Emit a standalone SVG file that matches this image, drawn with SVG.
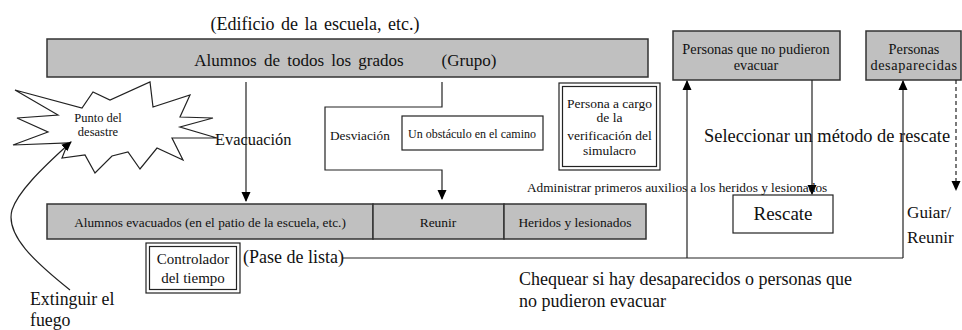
<svg xmlns="http://www.w3.org/2000/svg" width="962" height="330" viewBox="0 0 962 330" font-family="'Liberation Serif', 'DejaVu Serif', serif">
<style>
text{font-family:'Liberation Serif','DejaVu Serif',serif;fill:#111}
.g{fill:#c0c0c0;stroke:#333;stroke-width:1.5}
.w{fill:#fff;stroke:#222;stroke-width:1.2}
.ln{fill:none;stroke:#222;stroke-width:1.2}
.c{text-anchor:middle}
</style>
<defs>
<marker id="ah" markerWidth="10" markerHeight="10" refX="9" refY="5" orient="auto" markerUnits="userSpaceOnUse">
<path d="M0,0.5 L10,5 L0,9.5 Z" fill="#000"/>
</marker>
</defs>
<rect width="962" height="330" fill="#fff"/>

<text x="315" y="30" class="c" font-size="18" word-spacing="2">(Edificio de la escuela, etc.)</text>

<g id="top-bar">
<rect class="g" x="47" y="39" width="601" height="38"/>
<text x="299" y="66" class="c" font-size="17" word-spacing="3">Alumnos de todos los grados</text>
<text x="469" y="66" class="c" font-size="17">(Grupo)</text>
</g>

<g id="starburst">
<polygon class="w" points="15,90 82,108 93,92 110,100 150,82 153,107 190,95 180,117 213,118 180,127 217,138 172,138 183,160 157,148 140,169 128,152 112,156 95,173 85,155 62,158 68,143 13,145 48,132 17,118 58,115"/>
<text x="98" y="122" class="c" font-size="12.5">Punto del</text>
<text x="98" y="136" class="c" font-size="12.5">desastre</text>
</g>

<g id="obstacle">
<rect class="w" x="402" y="116" width="141" height="34"/>
<text x="472" y="138" class="c" font-size="12">Un obstáculo en el camino</text>
</g>

<g id="verifier">
<rect class="w" x="559" y="83" width="101" height="87" stroke-width="1.5"/>
<rect class="w" x="562.5" y="86.5" width="94" height="80" stroke-width="1.2"/>
<text x="609.5" y="108" class="c" font-size="13.5">Persona a cargo</text>
<text x="609.5" y="122" class="c" font-size="13.5">de la</text>
<text x="609.5" y="140" class="c" font-size="13.5">verificación del</text>
<text x="609.5" y="155" class="c" font-size="13.5">simulacro</text>
</g>

<g id="no-evac">
<rect class="g" x="673" y="31" width="167" height="49"/>
<text x="756" y="54" class="c" font-size="14.3">Personas que no pudieron</text>
<text x="756" y="70" class="c" font-size="14.3">evacuar</text>
</g>

<g id="missing">
<rect class="g" x="866" y="31" width="95" height="49"/>
<text x="914" y="54" class="c" font-size="14.3">Personas</text>
<text x="914" y="70" class="c" font-size="14.3" letter-spacing="0.6">desaparecidas</text>
</g>

<g id="bottom-bar">
<rect class="g" x="47" y="204" width="326" height="35"/>
<rect class="g" x="373" y="204" width="131" height="35"/>
<rect class="g" x="504" y="204" width="142" height="35"/>
<text x="210" y="227" class="c" font-size="13.3">Alumnos evacuados (en el patio de la escuela, etc.)</text>
<text x="438" y="227" class="c" font-size="13.5">Reunir</text>
<text x="575" y="227" class="c" font-size="13.5">Heridos y lesionados</text>
</g>

<g id="timekeeper">
<rect class="w" x="146" y="243" width="94" height="50" stroke-width="1.5"/>
<rect class="w" x="149.5" y="246.5" width="87" height="43" stroke-width="1.2"/>
<text x="193" y="264" class="c" font-size="15">Controlador</text>
<text x="193" y="283" class="c" font-size="15">del tiempo</text>
</g>

<g id="rescue">
<rect class="w" x="733" y="195" width="100" height="38"/>
<text x="783" y="220" class="c" font-size="19">Rescate</text>
</g>

<g id="connectors">
<line class="ln" x1="246" y1="82" x2="246" y2="201" marker-end="url(#ah)"/>
<polyline class="ln" points="442,82 442,107 325,107 325,170 442,170 442,199" marker-end="url(#ah)"/>
<polyline class="ln" points="343,258 903,258"/>
<line class="ln" x1="687" y1="258" x2="687" y2="81" marker-end="url(#ah)"/>
<line class="ln" x1="903" y1="258" x2="903" y2="81" marker-end="url(#ah)"/>
<line class="ln" x1="812" y1="80" x2="812" y2="194" marker-end="url(#ah)"/>
<line class="ln" x1="956" y1="80" x2="956" y2="190" stroke-dasharray="4,3" marker-end="url(#ah)"/>
<path class="ln" d="M70,290 C35,262 5,235 12,210 C18,192 40,170 71,142" marker-end="url(#ah)"/>
</g>

<g id="labels">
<text x="215" y="145" font-size="16.4">Evacuación</text>
<text x="330" y="140" font-size="13.3">Desviación</text>
<text x="704" y="142" font-size="18.4">Seleccionar un método de rescate</text>
<text x="527" y="192" font-size="13.3">Administrar primeros auxilios a los heridos y lesionados</text>
<text x="907" y="218" font-size="17.2">Guiar/</text>
<text x="907" y="243" font-size="17.2">Reunir</text>
<text x="243" y="263" font-size="18">(Pase de lista)</text>
<text x="519" y="285" font-size="18">Chequear si hay desaparecidos o personas que</text>
<text x="519" y="307" font-size="18">no pudieron evacuar</text>
<text x="30" y="305" font-size="17.8">Extinguir el</text>
<text x="30" y="326" font-size="17.8">fuego</text>
</g>
</svg>
